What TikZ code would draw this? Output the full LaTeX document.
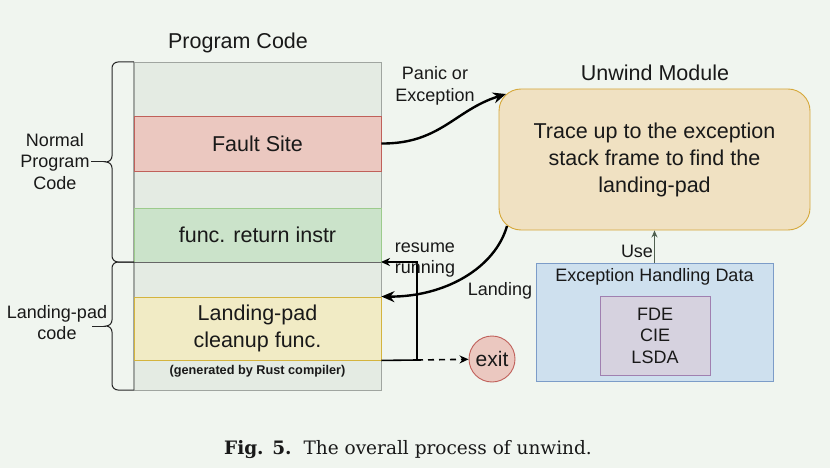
\documentclass[tikz,border=0pt]{standalone}
\usepackage{fontspec}
\usetikzlibrary{arrows.meta}
\newfontfamily\lsans{Liberation Sans}
\newfontfamily\dserif{DejaVu Serif}
\newcommand\fbig{\fontsize{21.5}{27}\selectfont}
\newcommand\fmid{\fontsize{18}{21.5}\selectfont}
\definecolor{bgc}{RGB}{240,245,239}
\definecolor{colc}{RGB}{228,235,227}
\definecolor{colb}{RGB}{160,165,160}
\definecolor{redf}{RGB}{235,200,192}
\definecolor{redb}{RGB}{192,96,90}
\definecolor{grnf}{RGB}{203,227,202}
\definecolor{grnb}{RGB}{156,203,140}
\definecolor{yelf}{RGB}{241,235,197}
\definecolor{yelb}{RGB}{212,180,62}
\definecolor{orf}{RGB}{240,225,194}
\definecolor{orb}{RGB}{214,168,58}
\definecolor{bluf}{RGB}{206,224,238}
\definecolor{blub}{RGB}{124,156,200}
\definecolor{purf}{RGB}{214,210,223}
\definecolor{purb}{RGB}{160,128,176}
\definecolor{usec}{RGB}{80,96,80}
\begin{document}
\begin{tikzpicture}[x=1pt,y=-1pt,
  every node/.style={font=\lsans\fmid, text=black!90},
  lab/.style={align=center, inner sep=0pt},
  pbox/.style={draw=#1, line width=0.9pt, minimum width=247pt, inner sep=0pt, align=center, font=\lsans\fbig},
  mainarrow/.style={line width=2.4pt, -{Stealth[length=13pt,width=11pt]}},
  thinarrow/.style={line width=1.6pt, -{Stealth[length=9pt,width=8pt]}},
  bracepath/.style={line width=1pt, black!85},
]
\fill[bgc] (0,0) rectangle (830,468);
\useasboundingbox (0,0) rectangle (830,468);

% program code column
\node[lab, font=\lsans\fbig] (ptitle) at (238,43) {Program Code};
\node[draw=colb, fill=colc, line width=0.9pt, minimum width=247pt, minimum height=328pt, inner sep=0pt] (col) at (257.5,226) {};
\draw[line width=1.8pt, colb] (col.north west) -- (col.south west);
\node[pbox=redb, fill=redf, minimum height=55pt] (fault) at (257.5,143.5) {Fault Site};
\node[pbox=grnb, fill=grnf, minimum height=54pt] (func) at (257.5,235) {func. return instr};
\node[pbox=yelb, fill=yelf, minimum height=63pt] (land) at (257.5,328.5) {Landing-pad\\cleanup func.};
\node[lab, font=\lsans\bfseries\fontsize{12.7}{14}\selectfont] (gen) at (257.5,371) {(generated by Rust compiler)};
\draw[line width=1.1pt, black!60] (func.south west) -- (func.south east);

% braces
\draw[bracepath] (134,62) -- (118,62) to[out=180,in=90] (112,68) -- (112,156) to[out=-90,in=0] (106,162) to[out=0,in=90] (112,168) -- (112,256) to[out=-90,in=180] (118,262) -- (134,262);
\draw[bracepath] (134,262) -- (118,262) to[out=180,in=90] (112,268) -- (112,320) to[out=-90,in=0] (106,326) to[out=0,in=90] (112,332) -- (112,384) to[out=-90,in=180] (118,390) -- (134,390);
\coordinate (tip1) at (106,162);
\coordinate (tip2) at (106,326);
\coordinate (t1a) at (91,162);
\coordinate (t2a) at (92,326);
\draw[bracepath] (t1a) -- (tip1);
\draw[bracepath] (t2a) -- (tip2);
\node[lab] (nlab) at (55,161.5) {Normal\\Program\\Code};
\node[lab] (llab) at (57,322.5) {Landing-pad\\code};

% unwind module
\node[lab, font=\lsans\fbig] (utitle) at (655,73) {Unwind Module};
\node[draw=orb, fill=orf, line width=0.9pt, rounded corners=22pt, minimum width=311pt, minimum height=141pt, align=center, font=\lsans\fbig] (unw) at (654.5,159.5) {Trace up to the exception\\stack frame to find the\\landing-pad};

% exception handling data
\node[draw=blub, fill=bluf, line width=0.9pt, minimum width=237pt, minimum height=118pt, inner sep=0pt] (ehd) at (654.5,322) {};
\node[lab] (ehdt) at (654.5,277) {Exception Handling Data};
\node[draw=purb, fill=purf, line width=0.9pt, minimum width=110pt, minimum height=79pt, align=center] (data) at (655,335.5) {FDE\\CIE\\LSDA};
\draw[line width=1.1pt, usec, -{Stealth[length=7pt,width=6pt]}] (ehd.north) -- (unw.south);
\node[lab] (uselab) at (637,251) {Use};

% arrows
\coordinate (uin) at (506,94);
\coordinate (uout) at (507,226);
\draw[mainarrow] (fault.east) .. controls (440,144) and (455,110) .. (uin);
\node[lab] (plab) at (435,86) {Panic or\\Exception};
\draw[mainarrow] (uout) .. controls (495,268) and (445,297) .. (land.north east);
\node[lab] (llab2) at (500,291) {Landing};

\node[draw=redb, fill=redf, line width=0.9pt, circle, minimum size=46pt, inner sep=0pt, font=\lsans\fontsize{21}{24}\selectfont] (exit) at (492,359) {exit};
\coordinate (jn) at (417,360);
\coordinate (ret) at (381,262);
\draw[thinarrow] (land.south east) -- (jn) |- (ret);
\draw[line width=1.6pt, dashed, dash pattern=on 6pt off 5pt, -{Stealth[length=9pt,width=8pt]}] (jn) -- (exit);
\node[lab] (rlab) at (425,260) {resume\\running};

% caption
\node[lab, font=\dserif\fontsize{18.5}{22}\selectfont] (cap) at (408,450) {\textbf{Fig. 5.}\hspace{12pt}The overall process of unwind.};
\end{tikzpicture}
\end{document}
